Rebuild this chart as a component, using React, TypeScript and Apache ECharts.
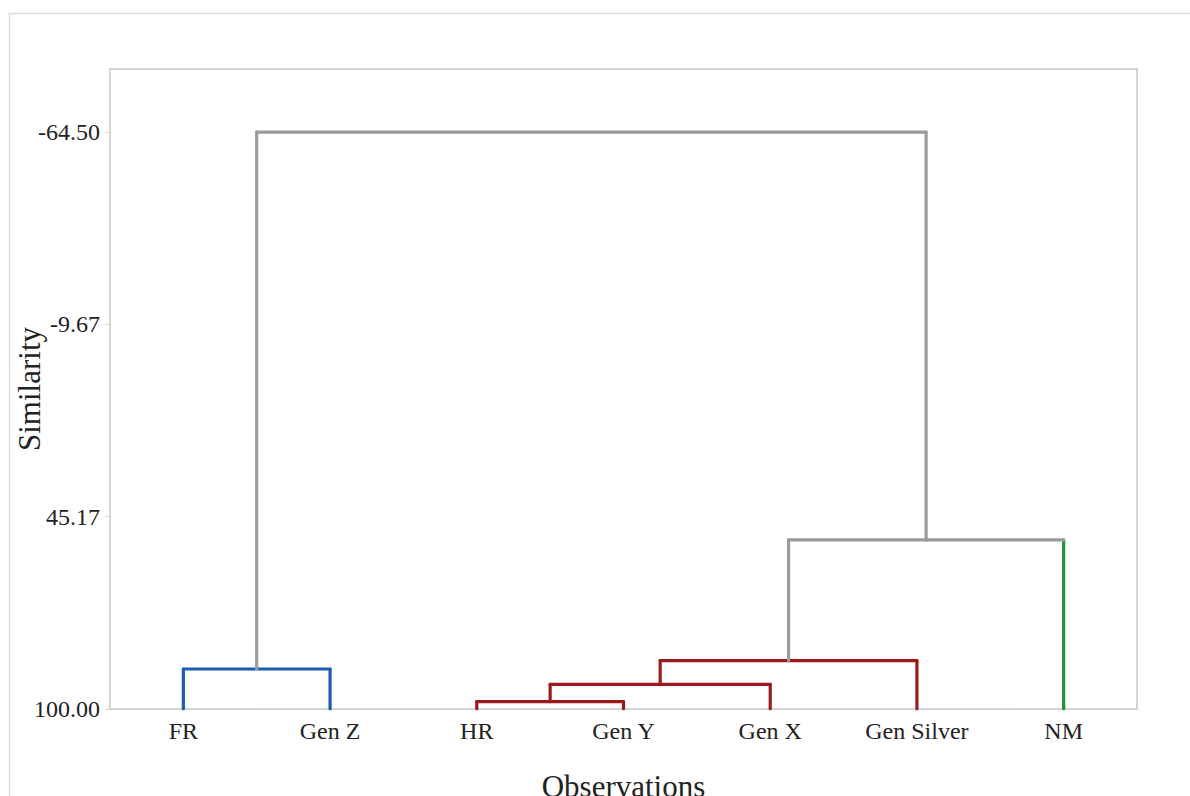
import React, { useEffect, useRef } from "react";
import * as echarts from "echarts";

const observations = ["FR", "Gen Z", "HR", "Gen Y", "Gen X", "Gen Silver", "NM"];
const leafColors = ["#1a5eab", "#1a5eab", "#9a1b1e", "#9a1b1e", "#9a1b1e", "#9a1b1e", "#1d9634"];
// merges: node index 7.. (left child, right child, similarity level)
const mergeLeft = [0, 2, 8, 9, 10, 7];
const mergeRight = [1, 3, 4, 5, 6, 11];
const mergeLevel = [88.6, 97.9, 92.96, 86.2, 51.8, -64.5];
const mergeColor = ["#1a5eab", "#9a1b1e", "#9a1b1e", "#9a1b1e", "#9b9b9b", "#9b9b9b"];
const yTicks = [-64.5, -9.67, 45.17, 100.0];
const GRAY = "#9b9b9b";

const FONT = "'Liberation Serif', 'DejaVu Serif', serif";

function buildSegments() {
  const n = observations.length;
  const xs: number[] = observations.map((_, i) => i);
  const hs: number[] = observations.map(() => 100);
  const segs: { pts: number[][]; color: string }[] = [];
  mergeLeft.forEach((a, k) => {
    const b = mergeRight[k];
    const h = mergeLevel[k];
    const pure = mergeColor[k] !== GRAY;
    const colFor = (c: number) => (pure ? mergeColor[k] : c < n && leafColors[c] === "#1d9634" ? leafColors[c] : GRAY);
    segs.push({ pts: [[xs[a], hs[a]], [xs[a], h]], color: colFor(a) });
    segs.push({ pts: [[xs[b], hs[b]], [xs[b], h]], color: colFor(b) });
    segs.push({ pts: [[xs[a], h], [xs[b], h]], color: mergeColor[k] });
    xs.push((xs[a] + xs[b]) / 2);
    hs.push(h);
  });
  return segs;
}

export default function App() {
  const ref = useRef<HTMLDivElement>(null);
  useEffect(() => {
    document.body.style.margin = "0";
    const chart = echarts.init(ref.current!, null, { renderer: "svg" });
    const segs = buildSegments();
    chart.setOption({
      animation: false,
      backgroundColor: "#ffffff",
      graphic: [
        {
          type: "rect",
          shape: { x: 9.5, y: 13.5, width: 1200, height: 800 },
          style: { fill: "none", stroke: "#dcdcdc", lineWidth: 1.5 },
          silent: true,
          z: -1,
        },
      ],
      grid: {
        left: 110,
        right: 53,
        top: 69,
        bottom: 87,
        show: true,
        borderColor: "#c8c8c8",
        borderWidth: 1.5,
        outerBoundsMode: "none",
        containLabel: false,
      },
      xAxis: [
        {
          type: "category",
          data: observations,
          boundaryGap: true,
          name: "Observations",
          nameLocation: "middle",
          nameGap: 62,
          nameTextStyle: { fontFamily: FONT, fontSize: 31, color: "#222" },
          axisLine: { onZero: false, lineStyle: { color: "#d4d4d4", width: 1.5 } },
          axisTick: { alignWithLabel: true, length: 5, lineStyle: { color: "#d4d4d4" } },
          axisLabel: { fontFamily: FONT, fontSize: 24, color: "#222", margin: 10 },
          splitLine: { show: false },
        },
        {
          type: "value",
          min: -0.5,
          max: 6.5,
          show: false,
          axisLine: { show: false, onZero: false },
          splitLine: { show: false },
        },
      ],
      yAxis: {
        type: "value",
        inverse: true,
        min: -82.5,
        max: 100,
        name: "Similarity",
        nameLocation: "middle",
        nameGap: 81,
        nameMoveOverlap: false,
        nameTextStyle: { fontFamily: FONT, fontSize: 31, color: "#222", verticalAlign: "middle" },
        axisLine: { show: true, onZero: false, lineStyle: { color: "#d4d4d4", width: 1.5 } },
        axisTick: { show: true, length: 5, customValues: yTicks, lineStyle: { color: "#d4d4d4" } },
        axisLabel: {
          fontFamily: FONT,
          fontSize: 24,
          color: "#222",
          margin: 10,
          customValues: yTicks,
          formatter: (v: number) => v.toFixed(2),
        },
        splitLine: { show: false },
      },
      series: segs.map((s) => ({
        type: "line",
        xAxisIndex: 1,
        data: s.pts,
        symbol: "none",
        silent: true,
        lineStyle: { color: s.color, width: 3.2, cap: "round", join: "round" },
      })),
    });
    return () => chart.dispose();
  }, []);
  return <div ref={ref} style={{ width: 1190, height: 796 }} />;
}
